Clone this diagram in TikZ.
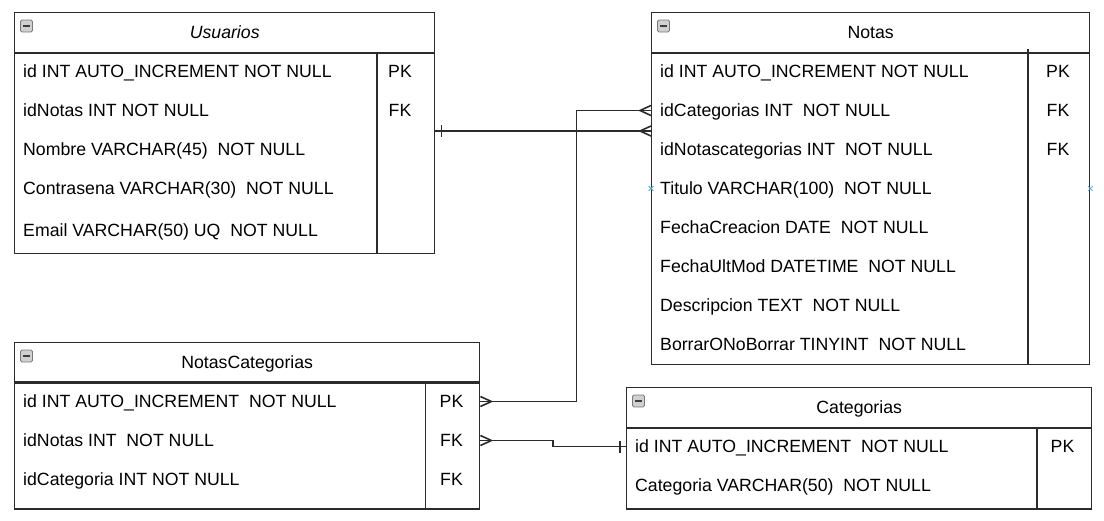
\documentclass[tikz,border=0pt]{standalone}
\usepackage{fontspec}
\setmainfont{Liberation Sans}
\usetikzlibrary{positioning,calc,shapes.misc}

\definecolor{linegray}{HTML}{2B2B2B}
\definecolor{icongray}{HTML}{D0D0D0}
\definecolor{iconedge}{HTML}{7A7A7A}
\definecolor{hoverblue}{HTML}{4FA8E0}

\newcommand{\tabfont}{\fontsize{17.7}{20}\selectfont}

\tikzset{
  tbl/.style={draw=linegray, line width=1.4pt, anchor=north west, inner sep=0pt},
  hdr/.style={tbl, font=\tabfont, text height=12.7pt, text depth=0pt},
  field/.style={anchor=west, inner sep=0pt, text height=12.7pt, text depth=0pt, font=\tabfont},
  key/.style={field, anchor=center},
  link/.style={draw=linegray, line width=1.6pt},
  minus/.style={draw=iconedge, fill=icongray, minimum size=12pt, inner sep=0pt, rounded corners=1.5pt,
    line width=0.9pt,
    path picture={\draw[iconedge!50!black, line width=2pt]
      ([xshift=-3.5pt]path picture bounding box.center) -- ([xshift=3.5pt]path picture bounding box.center);}},
  hover/.style={cross out, draw=hoverblue, minimum size=4pt, inner sep=0pt, line width=0.8pt},
  crowfoot/.pic={\draw[link] (0,-5) -- (11,0) -- (0,5);},
  onebar/.pic={\draw[link] (6,-6) -- (6,6);}
}

\begin{document}
\begin{tikzpicture}[x=1pt, y=-1pt]
    \useasboundingbox (0,0) rectangle (1104,520);

    % Usuarios
    \node[hdr, minimum width=420pt, minimum height=39.5pt] (ush) at (14,12) {\textit{Usuarios}};
    \node[tbl, minimum width=420pt, minimum height=200pt] (usb) at (ush.south west) {};
    \draw[link] ([xshift=363pt]usb.north west) -- ([xshift=363pt]usb.south west);
    \node[minus] at ([shift={(12.5,14)}]ush.north west) {};
    \foreach \txt [count=\i] in {id INT AUTO\_INCREMENT NOT NULL, idNotas INT NOT NULL,
        Nombre VARCHAR(45)~ NOT NULL, Contrasena VARCHAR(30)~ NOT NULL}
      \node[field] (us\i) at (23, 32.5+39*\i) {\txt};
    \node[field] (us5) at (23,230) {Email VARCHAR(50) UQ~ NOT NULL};
    \node[key] at (us1 -| 400,0) {PK};
    \node[key] at (us2 -| 400,0) {FK};

    % Notas
    \node[hdr, minimum width=438pt, minimum height=39.5pt] (nth) at (651,12) {Notas};
    \node[tbl, minimum width=438pt, minimum height=311pt] (ntb) at (nth.south west) {};
    \draw[link] ([shift={(377,-4)}]ntb.north west) -- ([xshift=377pt]ntb.south west);
    \node[minus] at ([shift={(12.5,14)}]nth.north west) {};
    \foreach \txt [count=\i] in {id INT AUTO\_INCREMENT NOT NULL, idCategorias INT~ NOT NULL,
        idNotascategorias INT~ NOT NULL, Titulo VARCHAR(100)~ NOT NULL, FechaCreacion DATE~ NOT NULL,
        FechaUltMod DATETIME~ NOT NULL, Descripcion TEXT~ NOT NULL, BorrarONoBorrar TINYINT~ NOT NULL}
      \node[field] (nt\i) at (660, 32.5+39*\i) {\txt};
    \node[key] at (nt1 -| 1058,0) {PK};
    \node[key] at (nt2 -| 1058,0) {FK};
    \node[key] at (nt3 -| 1058,0) {FK};
    \node[hover] at (ntb.west |- nt4) {};
    \node[hover] at (ntb.east |- nt4) {};

    % NotasCategorias
    \node[hdr, minimum width=465pt, minimum height=39pt] (nch) at (14,342) {NotasCategorias};
    \node[tbl, minimum width=465pt, minimum height=126pt] (ncb) at (nch.south west) {};
    \draw[link] ([xshift=411.5pt]ncb.north west) -- ([xshift=411.5pt]ncb.south west);
    \node[minus] at ([shift={(12.5,14)}]nch.north west) {};
    \foreach \txt [count=\i] in {id INT AUTO\_INCREMENT~ NOT NULL, idNotas INT~ NOT NULL,
        idCategoria INT NOT NULL}
      \node[field] (nc\i) at (23, 362.5+39*\i) {\txt};
    \node[key] at (nc1 -| 451.5,0) {PK};
    \node[key] at (nc2 -| 451.5,0) {FK};
    \node[key] at (nc3 -| 451.5,0) {FK};

    % Categorias
    \node[hdr, minimum width=465pt, minimum height=39.5pt] (cah) at (626,387) {Categorias};
    \node[tbl, minimum width=465pt, minimum height=80.5pt] (cab) at (cah.south west) {};
    \draw[link] ([xshift=411pt]cab.north west) -- ([xshift=411pt]cab.south west);
    \node[minus] at ([shift={(12.5,14)}]cah.north west) {};
    \foreach \txt [count=\i] in {id INT AUTO\_INCREMENT~ NOT NULL, Categoria VARCHAR(50)~ NOT NULL}
      \node[field] (ca\i) at (635, 407.5+39*\i) {\txt};
    \node[key] at (ca1 -| 1062.5,0) {PK};

    % relaciones
    \coordinate (lnk) at (0,131);
    \draw[link] (usb.east |- lnk) -- (ntb.west |- lnk);
    \pic at (usb.east |- lnk) {onebar};
    \pic[rotate=180] at (ntb.west |- lnk) {crowfoot};

    \draw[link] (ncb.east |- nc1) -- ++(96,0) |- (ntb.west |- nt2);
    \pic at (ncb.east |- nc1) {crowfoot};
    \pic[rotate=180] at (ntb.west |- nt2) {crowfoot};

    \draw[link] (ncb.east |- nc2) -| ($(ncb.east |- nc2)!0.5!(cab.west |- ca1)$) |- (cab.west |- ca1);
    \pic at (ncb.east |- nc2) {crowfoot};
    \pic[rotate=180] at (cab.west |- ca1) {onebar};
\end{tikzpicture}
\end{document}
